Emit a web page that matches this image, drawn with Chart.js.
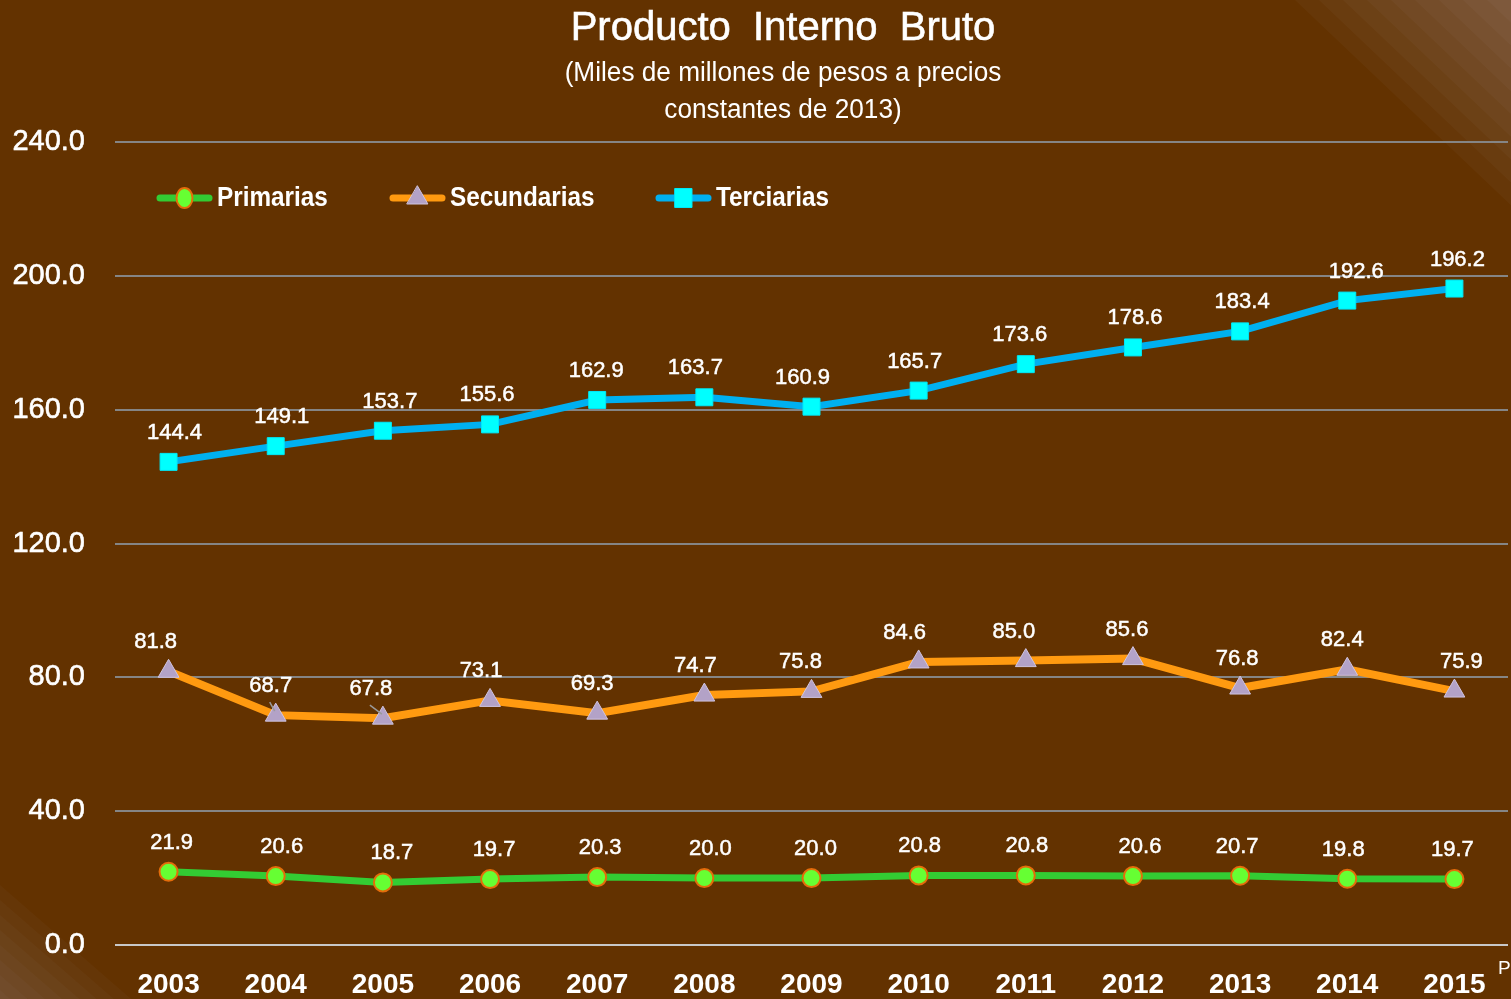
<!DOCTYPE html>
<html><head><meta charset="utf-8">
<script src="https://cdn.jsdelivr.net/npm/chart.js@4.4.1/dist/chart.umd.min.js"></script>
<style>html,body{margin:0;padding:0;background:#633200;overflow:hidden}#wrap{width:1511px;height:999px;position:relative}</style>
</head><body><div id="wrap"><canvas id="c" width="1511" height="999"></canvas></div>
<script>
const years = ['2003','2004','2005','2006','2007','2008','2009','2010','2011','2012','2013','2014','2015'];
const primarias = [21.9,20.6,18.7,19.7,20.3,20.0,20.0,20.8,20.8,20.6,20.7,19.8,19.7];
const secundarias = [81.8,68.7,67.8,73.1,69.3,74.7,75.8,84.6,85.0,85.6,76.8,82.4,75.9];
const terciarias = [144.4,149.1,153.7,155.6,162.9,163.7,160.9,165.7,173.6,178.6,183.4,192.6,196.2];
const seriesNames = ['Primarias','Secundarias','Terciarias'];
const yMin = 0, yMax = 240, yStep = 40;
const titleText = 'Producto  Interno  Bruto';
const subtitleLines = ['(Miles de millones de pesos a precios', 'constantes de 2013)'];
const footnote = 'P';

// label horizontal nudges (styling only)
const labelDx = [
  [3, 6, 9, 4, 3, 6, 4, 1, 1, 7, -3, -4, -2],
  [-13, -5, -12, -9, -5, -9, -11, -14, -12, -6, -3, -5, 7],
  [6, 6, 7, -3, -1, -9, -9, -4, -6, 2, 2, 9, 3]
];
const leaderLines = [[1, 1], [1, 2]];

const SANS = "'Liberation Sans',Arial,sans-serif";

function scaledText(ctx, text, x, y, font, sx, align, stroke) {
  ctx.save();
  ctx.font = font;
  ctx.textAlign = align;
  ctx.textBaseline = 'middle';
  ctx.translate(x, y);
  ctx.scale(sx, 1);
  ctx.fillText(text, 0, 0);
  if (stroke) { ctx.strokeStyle = ctx.fillStyle; ctx.lineWidth = stroke; ctx.strokeText(text, 0, 0); }
  ctx.restore();
}

const bgPlugin = {
  id: 'bg',
  beforeDraw(chart) {
    const ctx = chart.ctx, W = chart.width, H = chart.height;
    ctx.save();
    ctx.fillStyle = '#633200';
    ctx.fillRect(0, 0, W, H);
    for (let i = 0; i < 9; i++) {
      const c = 1295 + i * 24;
      ctx.fillStyle = 'rgba(225,215,245,0.032)';
      ctx.beginPath();
      ctx.moveTo(c, 0); ctx.lineTo(W, 0); ctx.lineTo(W, (W - c) * 0.95); ctx.closePath();
      ctx.fill();
    }
    for (let i = 0; i < 8; i++) {
      const c = 885 + i * 15;
      ctx.fillStyle = 'rgba(200,190,225,0.03)';
      ctx.beginPath();
      ctx.moveTo(0, c); ctx.lineTo(0, H); ctx.lineTo((H - c) * 1.15, H); ctx.closePath();
      ctx.fill();
    }
    ctx.restore();
  }
};

const textPlugin = {
  id: 'texts',
  afterDraw(chart) {
    const ctx = chart.ctx;
    ctx.save();
    ctx.fillStyle = '#ffffff';
    scaledText(ctx, titleText, 783, 29, '40px ' + SANS, 1.0, 'center', 0.6);
    scaledText(ctx, subtitleLines[0], 783, 74, '27px ' + SANS, 0.97, 'center');
    scaledText(ctx, subtitleLines[1], 783, 111, '27px ' + SANS, 0.97, 'center');
    scaledText(ctx, footnote, 1498, 969, '19px ' + SANS, 1, 'left');

    // legend
    const starts = [157, 390, 656];
    chart.data.datasets.forEach((ds, k) => {
      const x0 = starts[k], y = 198, len = 55;
      ctx.strokeStyle = ds.borderColor;
      ctx.lineWidth = 7;
      ctx.lineCap = 'round';
      ctx.beginPath(); ctx.moveTo(x0 + 3, y); ctx.lineTo(x0 + len - 3, y); ctx.stroke();
      ctx.fillStyle = ds.pointBackgroundColor;
      ctx.strokeStyle = ds.pointBorderColor;
      ctx.lineWidth = ds.pointBorderWidth;
      ctx.beginPath();
      const r = ds.pointRadius, cx = x0 + len / 2;
      if (ds.pointStyle === 'circle') { ctx.ellipse(cx, y, r - 1, r + 1, 0, 0, Math.PI * 2); }
      else if (ds.pointStyle === 'rect') { const s = r * Math.SQRT1_2; ctx.rect(cx - s, y - s - 1, 2 * s, 2 * s + 2); }
      else { const h = r; ctx.moveTo(cx, y - h); ctx.lineTo(cx + h * 0.866, y + h * 0.5); ctx.lineTo(cx - h * 0.866, y + h * 0.5); ctx.closePath(); }
      ctx.fill(); ctx.stroke();
      ctx.fillStyle = '#ffffff';
      scaledText(ctx, ds.label, x0 + len + 5, y + 1, 'bold 27px ' + SANS, 0.9, 'left');
    });
    ctx.restore();
  },
  afterDatasetsDraw(chart) {
    const ctx = chart.ctx;
    ctx.save();
    ctx.strokeStyle = '#9a9a9a';
    ctx.lineWidth = 1.5;
    leaderLines.forEach(([di, i]) => {
      const pt = chart.getDatasetMeta(di).data[i];
      const lx = pt.x + labelDx[di][i];
      ctx.beginPath(); ctx.moveTo(lx - 1, pt.y - 13); ctx.lineTo(pt.x - 1, pt.y - 4); ctx.stroke();
    });
    ctx.fillStyle = '#ffffff';
    ctx.strokeStyle = '#ffffff';
    ctx.lineWidth = 0.5;
    ctx.font = '22px ' + SANS;
    ctx.textAlign = 'center';
    ctx.textBaseline = 'middle';
    chart.data.datasets.forEach((ds, di) => {
      const meta = chart.getDatasetMeta(di);
      meta.data.forEach((pt, i) => {
        const t = ds.data[i].toFixed(1), x = pt.x + labelDx[di][i], y = pt.y - 29;
        ctx.fillText(t, x, y);
        ctx.strokeText(t, x, y);
      });
    });
    ctx.restore();
  }
};

new Chart(document.getElementById('c'), {
  type: 'line',
  data: {
    labels: years,
    datasets: [
      { label: seriesNames[0], data: primarias, borderColor: '#33cc33', borderWidth: 7,
        pointStyle: 'circle', pointRadius: 9, pointBackgroundColor: '#66ff33', pointBorderColor: '#e46c0a', pointBorderWidth: 2, tension: 0 },
      { label: seriesNames[1], data: secundarias, borderColor: '#ff9a10', borderWidth: 8,
        pointStyle: 'triangle', pointRadius: 12, pointBackgroundColor: '#b3a2c7', pointBorderColor: '#cfc4e0', pointBorderWidth: 1, tension: 0 },
      { label: seriesNames[2], data: terciarias, borderColor: '#00b0f0', borderWidth: 7,
        pointStyle: 'rect', pointRadius: 12, pointBackgroundColor: '#00ffff', pointBorderColor: '#00e8f8', pointBorderWidth: 1, tension: 0 }
    ]
  },
  options: {
    responsive: false,
    animation: false,
    devicePixelRatio: 1,
    layout: { autoPadding: false, padding: { top: 142, right: 3, left: 0, bottom: 0 } },
    plugins: { legend: { display: false }, title: { display: false }, tooltip: { enabled: false } },
    scales: {
      x: {
        offset: true,
        grid: { display: false, drawTicks: false },
        border: { display: false },
        ticks: { color: '#ffffff', font: { family: SANS, size: 28, weight: 'bold' }, padding: 23, maxRotation: 0, autoSkip: false },
        afterFit(s) { s.height = 54; s.paddingLeft = 0; s.paddingRight = 0; }
      },
      y: {
        min: yMin, max: yMax,
        grid: { drawTicks: false, lineWidth: 2, color: (c) => (c.tick && c.tick.value === 0) ? '#c8c8c8' : '#858585' },
        border: { display: false },
        ticks: { stepSize: yStep, color: '#ffffff', textStrokeColor: '#ffffff', textStrokeWidth: 0.6, font: { family: SANS, size: 29 }, padding: 30, callback: (v) => Number(v).toFixed(1) },
        afterFit(s) { s.width = 115; s.paddingTop = 0; s.paddingBottom = 0; }
      }
    }
  },
  plugins: [bgPlugin, textPlugin]
});
</script></body></html>
